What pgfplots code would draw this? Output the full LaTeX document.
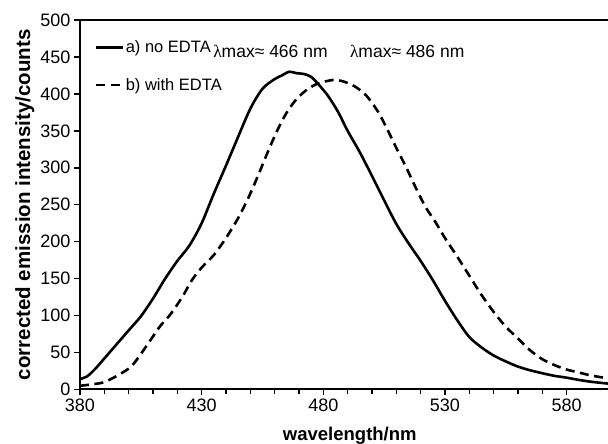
\documentclass[border=0pt]{standalone}
\usepackage{pgfplots}
\pgfplotsset{compat=1.18}
\usepackage{fontspec}
\setmainfont{Liberation Sans}
\newfontfamily\lamfont{Liberation Serif}

\pgfplotstableread{
x y
380 14
383 18
386 27
390 42
395 61
400 80
405 99
410 123
415 150
420 174
425 195
430 225
435 265
440 303
445 342
450 380
455 407
460 420
463 425
466 430
469 428
472 427
475 423
478 413
482 397
486 376
490 350
495 321
500 289
505 256
510 224
515 198
520 174
525 148
530 120
535 94
540 71
545 57
550 46
555 38
560 31
565 26
570 22
575 18.5
580 16
585 13
590 10.5
597 8
}\dataA

\pgfplotstableread{
x y
380 5
385 7
390 10
396 20
401 31
405 48
409 67
413 86
417 101
422 125
426 148
430 165
435 182
440 205
445 232
449 258
453 288
457 320
461 350
465 375
469 393
473 405
477 413
481 417
485 419
489 416
493 410
497 400
500 388
503 373
506 354
510 327
514 301
518 273
522 247
526 227
530 205
535 180
540 154
545 128
550 105
555 85
560 69
565 53
570 41
575 33
580 27
585 23
590 19
597 15
}\dataB

\begin{document}
\begin{tikzpicture}
\begin{axis}[
  name=ax,
  scale only axis,
  width=528pt, height=369.5pt,
  xmin=380, xmax=597, ymin=0, ymax=500,
  axis x line*=box, axis y line*=left,
  xtick={380,430,480,530,580},
  minor x tick num=4,
  ytick={0,50,...,500},
  xtick pos=left,
  tick align=outside,
  major tick length=6pt, minor tick length=5pt,
  axis line style={line width=2pt},
  every tick/.style={black, line width=1.5pt},
  tick label style={font=\fontsize{18}{20}\selectfont},
  /pgf/number format/assume math mode=true,
  xlabel={wavelength/nm},
  ylabel={corrected emission intensity/counts},
  xlabel style={font=\fontsize{18.5}{20}\selectfont\bfseries, at={(axis description cs:0.511,-0.1367)}, anchor=base},
  ylabel style={font=\fontsize{20.5}{22}\selectfont\bfseries, at={(axis description cs:-0.1043,0.5)}, anchor=center},
  legend cell align=left,
  legend image code/.code={\draw[#1] (0pt,0pt) -- (27pt,0pt);},
  legend style={at={(axis description cs:0.0284,0.947)}, anchor=north west,
    draw=none, fill=none, inner sep=0pt, row sep=22pt,
    font=\fontsize{16.5}{18}\selectfont,
    nodes={inner sep=1pt}},
]
\addplot[black, line width=2.6pt, smooth] table[x=x,y=y] {\dataA};
\addlegendentry{a) no EDTA}
\addplot[black, line width=2.6pt, smooth, dash pattern=on 9pt off 5.5pt] table[x=x,y=y] {\dataB};
\addlegendentry{b) with EDTA}
\node[anchor=west, inner sep=0pt, font=\fontsize{17.5}{20}\selectfont] at (axis description cs:0.252,0.916) {{\lamfont λ}max≈ 466 nm};
\node[anchor=west, inner sep=0pt, font=\fontsize{17.5}{20}\selectfont] at (axis description cs:0.511,0.916) {{\lamfont λ}max≈ 486 nm};
\end{axis}
\pgfresetboundingbox
\path (ax.south west) ++(-80pt,-54.5pt) rectangle ++(608pt,444pt);
\end{tikzpicture}
\end{document}
